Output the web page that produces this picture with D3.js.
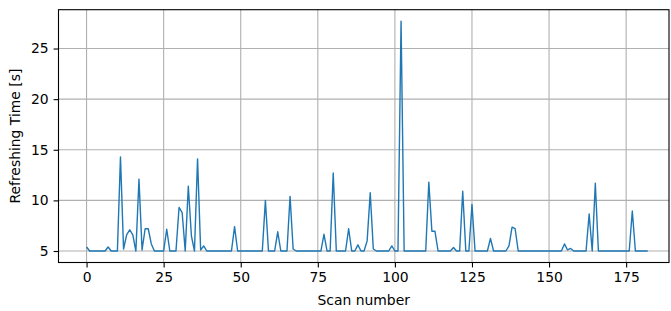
<!DOCTYPE html>
<html>
<head>
<meta charset="utf-8">
<script src="https://cdn.jsdelivr.net/npm/d3@7"></script>
<style>
  body { margin: 0; background: #fff; }
  text { font-family: "DejaVu Sans", sans-serif; }
</style>
</head>
<body>
<div class="canvas"></div>
<script>
// refreshing time per scan (s)
const scanTimes = [
  5.4, 5.0, 5.0, 5.0, 5.0, 5.0, 5.0, 5.4, 5.0, 5.0,
  5.0, 14.3, 5.2, 6.6, 7.1, 6.6, 5.0, 12.1, 5.1, 7.2,
  7.2, 5.7, 5.0, 5.0, 5.0, 5.0, 7.15, 5.0, 5.0, 5.0,
  9.3, 8.8, 5.0, 11.4, 6.5, 5.0, 14.1, 5.1, 5.5, 5.0,
  5.0, 5.0, 5.0, 5.0, 5.0, 5.0, 5.0, 5.0, 7.4, 5.0,
  5.0, 5.0, 5.0, 5.0, 5.0, 5.0, 5.0, 5.0, 10.0, 5.0,
  5.0, 5.0, 6.9, 5.0, 5.0, 5.0, 10.4, 5.2, 5.0, 5.0,
  5.0, 5.0, 5.0, 5.0, 5.0, 5.0, 5.0, 6.65, 5.0, 5.0,
  12.7, 5.0, 5.0, 5.0, 5.0, 7.2, 5.0, 5.0, 5.6, 5.0,
  5.0, 6.0, 10.75, 5.2, 5.0, 5.0, 5.0, 5.0, 5.0, 5.5,
  5.0, 5.0, 27.7, 5.0, 5.0, 5.0, 5.0, 5.0, 5.0, 5.0,
  5.0, 11.8, 6.95, 6.95, 5.0, 5.0, 5.0, 5.0, 5.0, 5.35,
  5.0, 5.0, 10.9, 5.0, 5.0, 9.6, 5.0, 5.0, 5.0, 5.0,
  5.0, 6.25, 5.0, 5.0, 5.0, 5.0, 5.0, 5.5, 7.35, 7.2,
  5.0, 5.0, 5.0, 5.0, 5.0, 5.0, 5.0, 5.0, 5.0, 5.0,
  5.0, 5.0, 5.0, 5.0, 5.0, 5.7, 5.1, 5.25, 5.0, 5.0,
  5.0, 5.0, 5.0, 8.65, 5.0, 11.7, 5.0, 5.0, 5.0, 5.0,
  5.0, 5.0, 5.0, 5.0, 5.0, 5.0, 5.0, 8.95, 5.0, 5.0,
  5.0, 5.0, 5.0
];
const xTicks = [0, 25, 50, 75, 100, 125, 150, 175];
const yTicks = [5, 10, 15, 20, 25];

const dims = { width: 671, height: 311 };
const plot = { left: 58.5, right: 669, top: 9.7, bottom: 262.5 };

const svg = d3.select('.canvas')
  .append('svg')
  .attr('width', dims.width)
  .attr('height', dims.height);

const x = d3.scaleLinear()
  .domain([-9.1, 188.9])
  .range([plot.left, plot.right]);

const y = d3.scaleLinear()
  .domain([3.865, 28.835])
  .range([plot.bottom, plot.top]);

// grid
const grid = svg.append('g');
grid.selectAll('.vgrid')
  .data(xTicks)
  .enter().append('line')
  .attr('x1', d => x(d)).attr('x2', d => x(d))
  .attr('y1', plot.top).attr('y2', plot.bottom)
  .attr('stroke', '#b0b0b0').attr('stroke-width', 1.1);
grid.selectAll('.hgrid')
  .data(yTicks)
  .enter().append('line')
  .attr('x1', plot.left).attr('x2', plot.right)
  .attr('y1', d => y(d)).attr('y2', d => y(d))
  .attr('stroke', '#b0b0b0').attr('stroke-width', 1.1);

// line
const line = d3.line()
  .x((d, i) => x(i))
  .y(d => y(d));

svg.append('path')
  .datum(scanTimes)
  .attr('d', line)
  .attr('fill', 'none')
  .attr('stroke', '#1f77b4')
  .attr('stroke-width', 1.4)
  .attr('stroke-linejoin', 'round');

// axes
const xAxis = d3.axisBottom(x)
  .tickValues(xTicks)
  .tickSize(4.9)
  .tickPadding(4.9);
const yAxis = d3.axisLeft(y)
  .tickValues(yTicks)
  .tickSize(4.9)
  .tickPadding(4.9);

const gx = svg.append('g')
  .attr('transform', `translate(0, ${plot.bottom})`)
  .call(xAxis);
const gy = svg.append('g')
  .attr('transform', `translate(${plot.left}, 0)`)
  .call(yAxis);

[gx, gy].forEach(g => {
  g.select('.domain').remove();
  g.selectAll('line').attr('stroke', '#000').attr('stroke-width', 1.1);
  g.selectAll('text')
    .attr('fill', '#000')
    .style('font-size', '13.9px')
    .style('font-family', '"DejaVu Sans", sans-serif');
});

// frame
svg.append('rect')
  .attr('x', plot.left).attr('y', plot.top)
  .attr('width', plot.right - plot.left)
  .attr('height', plot.bottom - plot.top)
  .attr('fill', 'none')
  .attr('stroke', '#000')
  .attr('stroke-width', 1.1);

// labels
svg.append('text')
  .attr('x', (plot.left + plot.right) / 2)
  .attr('y', 305)
  .attr('text-anchor', 'middle')
  .style('font-size', '13.9px')
  .text('Scan number');

svg.append('text')
  .attr('transform', `translate(20, ${(plot.top + plot.bottom) / 2}) rotate(-90)`)
  .attr('text-anchor', 'middle')
  .style('font-size', '13.9px')
  .text('Refreshing Time [s]');
</script>
</body>
</html>
